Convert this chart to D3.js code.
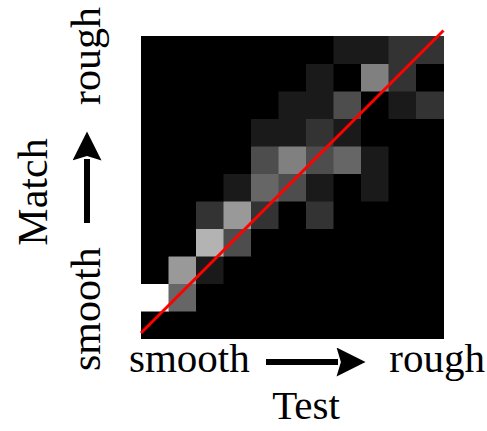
<!DOCTYPE html>
<html>
<head>
<meta charset="utf-8">
<script src="https://cdn.jsdelivr.net/npm/d3@7"></script>
<style>
  body { margin: 0; background: #fff; }
  text { font-family: "Liberation Serif", "DejaVu Serif", serif; fill: #000; }
</style>
</head>
<body>
<svg id="chart" width="487" height="431"></svg>
<script>
// test bins (left -> right) and match bins (bottom -> top)
var testBins = d3.range(11);
var matchBins = d3.range(11);

// counts per match row, bottom row first, one value per test bin
var row0  = [0, 0, 0, 0, 0, 0, 0, 0, 0, 0, 0];
var row1  = [10, 4, 0, 0, 0, 0, 0, 0, 0, 0, 0];
var row2  = [0, 6, 1, 0, 0, 0, 0, 0, 0, 0, 0];
var row3  = [0, 0, 7, 3, 0, 0, 0, 0, 0, 0, 0];
var row4  = [0, 0, 2, 6, 2, 0, 2, 0, 0, 0, 0];
var row5  = [0, 0, 0, 1, 4, 3, 1, 0, 1, 0, 0];
var row6  = [0, 0, 0, 0, 3, 5, 3, 4, 1, 0, 0];
var row7  = [0, 0, 0, 0, 1, 1, 2, 1, 0, 0, 0];
var row8  = [0, 0, 0, 0, 0, 1, 1, 3, 0, 1, 2];
var row9  = [0, 0, 0, 0, 0, 0, 1, 0, 5, 2, 0];
var row10 = [0, 0, 0, 0, 0, 0, 0, 1, 1, 2, 2];
var rows = [row0, row1, row2, row3, row4, row5, row6, row7, row8, row9, row10];
var maxCount = 10;

// diagonal reference line (bin units)
var diagX = [0, 11];
var diagY = [0.2, 11.2];

var xLabels = ["smooth", "rough"];
var yLabels = ["smooth", "rough"];
var xTitle = "Test";
var yTitle = "Match";

var svg = d3.select("#chart");

var gLeft = 141, gRight = 443.5, gTop = 36, gBottom = 338.5;

var x = d3.scaleBand().domain(testBins).range([gLeft, gRight]);
var y = d3.scaleBand().domain(matchBins).range([gBottom, gTop]);
var xl = d3.scaleLinear().domain([0, 11]).range([gLeft, gRight]);
var yl = d3.scaleLinear().domain([0, 11]).range([gBottom, gTop]);
var gray = d3.scaleLinear().domain([0, maxCount]).range(["#000", "#fff"]);

var cells = [];
rows.forEach(function(r, j) {
    r.forEach(function(v, i) { cells.push({ t: i, m: j, v: v }); });
});

svg.append("g").selectAll("rect")
    .data(cells).enter()
    .append("rect")
    .attr("x", function(d) { return x(d.t); })
    .attr("y", function(d) { return y(d.m); })
    .attr("width", x.bandwidth() + 0.5)
    .attr("height", y.bandwidth() + 0.5)
    .attr("fill", function(d) { return gray(d.v); });

svg.append("line")
    .attr("x1", xl(diagX[0])).attr("y1", yl(diagY[0]))
    .attr("x2", xl(diagX[1])).attr("y2", yl(diagY[1]))
    .attr("stroke", "#ff0000")
    .attr("stroke-width", 3);

// arrow head
svg.append("defs").append("marker")
    .attr("id", "head")
    .attr("viewBox", "0 0 10 10")
    .attr("refX", 0.5).attr("refY", 5)
    .attr("markerUnits", "userSpaceOnUse")
    .attr("markerWidth", 31).attr("markerHeight", 29)
    .attr("orient", "auto")
    .append("path")
    .attr("d", "M0,0 L10,5 L0,10 L1.5,5 Z")
    .attr("fill", "#000");

var fsX = 41, fsY = 42;

// x axis labels
var xg = svg.append("g");
xg.append("text").attr("x", 129).attr("y", 372).attr("font-size", fsX).text(xLabels[0]);
xg.append("text").attr("x", 485).attr("y", 372).attr("font-size", fsX)
    .attr("text-anchor", "end").text(xLabels[1]);
xg.append("line")
    .attr("x1", 266).attr("y1", 362).attr("x2", 338).attr("y2", 362)
    .attr("stroke", "#000").attr("stroke-width", 6)
    .attr("marker-end", "url(#head)");
xg.append("text").attr("x", 306).attr("y", 419).attr("font-size", fsX)
    .attr("text-anchor", "middle").text(xTitle);

// y axis labels
var yg = svg.append("g").attr("transform", "rotate(-90)");
yg.append("text").attr("x", -371).attr("y", 100).attr("font-size", fsY).text(yLabels[0]);
yg.append("text").attr("x", -7).attr("y", 100).attr("font-size", fsY)
    .attr("text-anchor", "end").text(yLabels[1]);
yg.append("line")
    .attr("x1", -223).attr("y1", 87).attr("x2", -159).attr("y2", 87)
    .attr("stroke", "#000").attr("stroke-width", 6)
    .attr("marker-end", "url(#head)");
yg.append("text").attr("x", -192).attr("y", 47).attr("font-size", fsY)
    .attr("text-anchor", "middle").text(yTitle);
</script>
</body>
</html>
